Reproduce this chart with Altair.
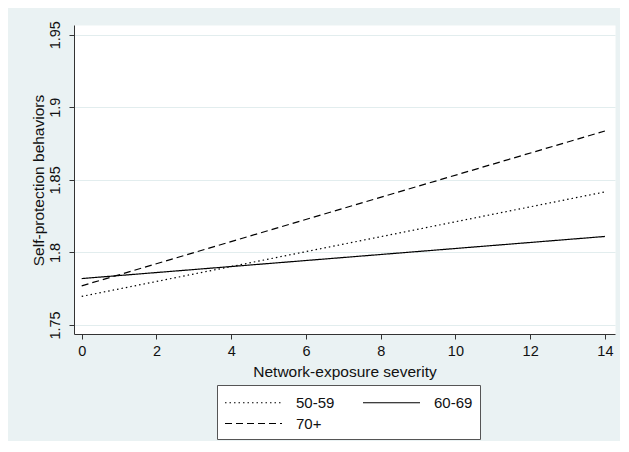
import altair as alt
import pandas as pd

groups = ["50-59", "60-69", "70+"]
x_points = [0, 14]
y_50_59 = [1.7697, 1.8417]
y_60_69 = [1.782, 1.811]
y_70p = [1.777, 1.8837]
y_ticks = [1.75, 1.8, 1.85, 1.9, 1.95]
x_ticks = [0, 2, 4, 6, 8, 10, 12, 14]

rows = []
for g, ys in zip(groups, [y_50_59, y_60_69, y_70p]):
    for xv, yv in zip(x_points, ys):
        rows.append({"group": g, "x": xv, "y": yv})
df = pd.DataFrame(rows)

FONT = "Liberation Sans"

chart = alt.Chart(df).mark_line(color="black", strokeWidth=1.2).encode(
    x=alt.X("x:Q",
            scale=alt.Scale(domain=[-0.206, 14.27], nice=False, zero=False),
            axis=alt.Axis(values=x_ticks, title="Network-exposure severity",
                          grid=False, labelPadding=5, titleX=270.5, titleY=37,
                          titleBaseline="middle", titleAlign="center")),
    y=alt.Y("y:Q",
            scale=alt.Scale(domain=[1.7438, 1.9567], nice=False, zero=False),
            axis=alt.Axis(values=y_ticks, format=".2~f",
                          title="Self-protection behaviors",
                          labelAngle=-90, labelAlign="center", labelBaseline="bottom",
                          labelPadding=7, grid=True,
                          titleAngle=-90, titleX=-36, titleY=155,
                          titleBaseline="middle", titleAlign="center")),
    strokeDash=alt.StrokeDash(
        "group:N",
        scale=alt.Scale(domain=groups, range=[[1.5, 3], [1, 0], [7, 4]]),
        legend=alt.Legend(title=None, orient="none", legendX=143, legendY=360,
                          columns=2, direction="horizontal",
                          symbolType="M-1,0H5", symbolSize=361,
                          symbolStrokeColor="black", symbolStrokeWidth=1.2,
                          symbolFillColor="transparent",
                          labelFontSize=15, labelFont=FONT, labelColor="#111",
                          labelOffset=51, columnPadding=25, rowPadding=2,
                          padding=7, fillColor="white", strokeColor="#555",
                          cornerRadius=0)),
    detail="group:N",
).properties(
    width=541,
    height=309,
    autosize=alt.AutoSizeParams(type="none"),
    padding={"left": 66, "top": 17, "right": 5, "bottom": 107},
    background="#EAF2F3",
).configure_view(
    fill="white", stroke="transparent"
).configure_axis(
    labelFont=FONT, titleFont=FONT, labelFontSize=14.5, titleFontSize=15.5,
    titleFontWeight="normal", labelColor="#111", titleColor="#111",
    domainColor="#333", domainWidth=1, tickColor="#333", tickSize=5, tickWidth=1,
    gridColor="#E2EDEE", gridWidth=1.2,
)

chart.save("out.html", embed_options={"renderer": "svg", "actions": False})
